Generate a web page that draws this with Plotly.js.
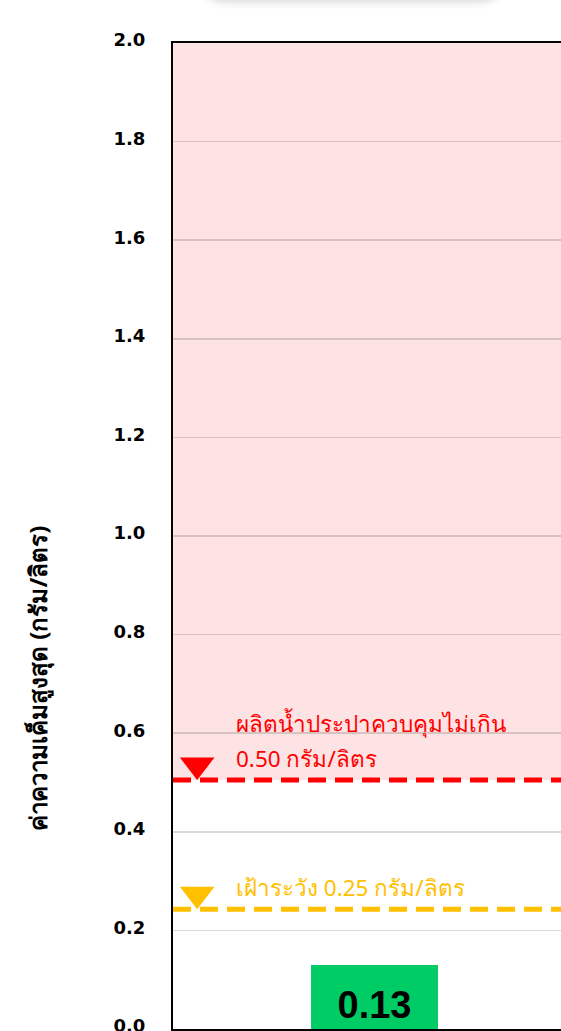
<!DOCTYPE html>
<html>
<head>
<meta charset="utf-8">
<script src="https://cdn.plot.ly/plotly-3.0.1.min.js"></script>
<style>
  html, body { margin: 0; padding: 0; overflow: hidden; background: #fff; }
  #wrap { position: relative; width: 561px; height: 1031px; overflow: hidden; }
  #chart { position: absolute; left: 0; top: 0; width: 600px; height: 1031px; }
  #shadowbox { position: absolute; left: 200px; top: -50px; width: 305px; height: 50px;
    border-radius: 25px; background: #fff; box-shadow: 0 2px 8px rgba(0,0,0,0.16); z-index: 5; }
</style>
</head>
<body>
<div id="wrap">
  <div id="chart"></div>
  <div id="shadowbox"></div>
</div>
<script>
// ---- data ----
const categories = ["ค่าความเค็มสูงสุด"];
const barValues = [0.13];
const thresholdValues = [0.505, 0.243];          // control limit, watch level (as drawn)
const thresholdColors = ["#FF0000", "#FFC000"];
const thresholdLabelsTop = ["ผลิตน้ำประปาควบคุมไม่เกิน", ""];
const thresholdLabels = ["0.50 กรัม/ลิตร", "เฝ้าระวัง 0.25 กรัม/ลิตร"];
const yTickValues = [0, 0.2, 0.4, 0.6, 0.8, 1.0, 1.2, 1.4, 1.6, 1.8, 2.0];
const yTickLabels = ["0.0", "0.2", "0.4", "0.6", "0.8", "1.0", "1.2", "1.4", "1.6", "1.8", "2.0"];
const yRange = [0, 2.0];
const yTitle = "ค่าความเค็มสูงสุด (กรัม/ลิตร)";

// ---- layout geometry ----
const W = 600, H = 1031;
const M = { l: 173, r: 24, t: 43, b: 2 };
const plotH = H - M.t - M.b;
const pxPerUnit = plotH / (yRange[1] - yRange[0]);
const triSize = 30;

const traces = [];
traces.push({
  type: "bar",
  x: categories,
  y: barValues,
  width: 0.315,
  marker: { color: "#00CC66", line: { width: 0 } },
  text: barValues.map(v => v.toFixed(2)),
  textposition: "inside",
  insidetextanchor: "start",
  textangle: 0,
  textfont: { family: "Liberation Sans, Arial, sans-serif", size: 38, color: "#000", weight: "bold" },
  hoverinfo: "skip",
  showlegend: false
});

thresholdValues.forEach((t, i) => {
  traces.push({
    type: "scatter", mode: "lines",
    x: [0, 1], y: [t, t], xaxis: "x2", yaxis: "y",
    line: { color: thresholdColors[i], width: 5, dash: "18px,9px" },
    hoverinfo: "skip", showlegend: false, cliponaxis: false
  });
  traces.push({
    type: "scatter", mode: "markers",
    x: [0.06], y: [t + (triSize / 2) / pxPerUnit], xaxis: "x2", yaxis: "y",
    marker: { symbol: "triangle-down", size: triSize, color: thresholdColors[i], line: { width: 0 } },
    hoverinfo: "skip", showlegend: false, cliponaxis: false
  });
});

const annotations = [];
thresholdValues.forEach((t, i) => {
  annotations.push({
    xref: "paper", yref: "y", x: 0.152, y: t, xanchor: "left", yanchor: "middle",
    yshift: 22, text: thresholdLabels[i], showarrow: false,
    font: { family: "Noto Sans, sans-serif", size: 22.5, color: thresholdColors[i] }
  });
  if (thresholdLabelsTop[i]) {
    annotations.push({
      xref: "paper", yref: "y", x: 0.152, y: t, xanchor: "left", yanchor: "middle",
      yshift: 57, text: thresholdLabelsTop[i], showarrow: false,
      font: { family: "Noto Sans, sans-serif", size: 22.5, color: thresholdColors[i] }
    });
  }
});
annotations.push({
  xref: "paper", yref: "paper", x: -0.335, y: 0.356, xanchor: "center", yanchor: "middle",
  textangle: -90, text: yTitle, showarrow: false,
  font: { family: "Noto Sans, sans-serif", size: 24, color: "#000", weight: "bold" }
});

const layout = {
  width: W, height: H,
  margin: M,
  paper_bgcolor: "#fff", plot_bgcolor: "#fff",
  showlegend: false,
  xaxis: {
    range: [-0.5, 0.5], showticklabels: false, ticks: "",
    showgrid: false, zeroline: false,
    showline: true, linecolor: "#000", linewidth: 2, mirror: true
  },
  xaxis2: { range: [0, 1], overlaying: "x", visible: false, fixedrange: true },
  yaxis: {
    range: yRange, tickmode: "array", tickvals: yTickValues, ticktext: yTickLabels,
    tickfont: { family: "DejaVu Sans, sans-serif", size: 18, color: "#000", weight: "bold" },
    ticks: "", ticklabelstandoff: 22, ticklabeloverflow: "allow", ticklabelshift: -3,
    showgrid: true, gridcolor: "rgba(0,0,0,0.15)", gridwidth: 1.5,
    zeroline: false,
    showline: true, linecolor: "#000", linewidth: 2, mirror: true
  },
  shapes: [{
    type: "rect", xref: "paper", yref: "y", x0: 0, x1: 1,
    y0: thresholdValues[0], y1: yRange[1],
    fillcolor: "#FDE3E3", line: { width: 0 }, layer: "below"
  }],
  annotations: annotations
};

Plotly.newPlot("chart", traces, layout, { staticPlot: true, displayModeBar: false });
</script>
</body>
</html>
